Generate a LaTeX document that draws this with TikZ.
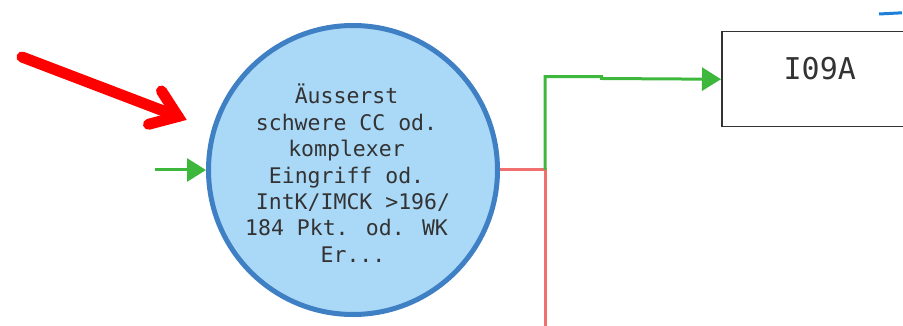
\documentclass[tikz,border=0pt]{standalone}
\usepackage{fontspec}
\usetikzlibrary{positioning,arrows.meta}
\newfontfamily\monofont{DejaVu Sans Mono}
\definecolor{cfill}{HTML}{AAD8F7}
\definecolor{cedge}{HTML}{3F80C4}
\definecolor{yesgreen}{HTML}{3DB83D}
\definecolor{nored}{HTML}{F07070}
\definecolor{txt}{HTML}{333333}
\definecolor{hintblue}{HTML}{1E7FD8}
\newcommand{\trail}{\hphantom{x}}
\tikzset{
  cond/.style={circle, minimum size=289pt, line width=5pt, draw=cedge, fill=cfill, text=txt, align=center, inner sep=0pt, font=\monofont\fontsize{21.5}{26.4}\selectfont},
  res/.style={rectangle, minimum width=196pt, minimum height=95pt, draw=txt, line width=1.5pt, text=txt, font=\monofont\fontsize{30}{36}\selectfont, text height=22pt, text depth=22pt},
  yesline/.style={draw=yesgreen, line width=3pt, -{Triangle[length=19pt,width=23pt]}},
  noline/.style={draw=nored, line width=3pt},
  pointer/.style={draw=red, line width=11pt, line cap=round},
  node distance=7mm
}

\begin{document}
\begin{tikzpicture}[x=1pt,y=-1pt]
	\useasboundingbox (0,0) rectangle (903,326);
	\node[cond] (crit) at (353,170) {\rule{0pt}{26pt}Äusserst\trail\\schwere CC od.\trail\\komplexer\trail\\Eingriff od.\trail\\IntK/IMCK >196/\\184 Pkt. od. WK\trail\\Er...};
	\node[res, anchor=north west] (i09a) at (721,31) {I09A};
	\coordinate (split) at (545,170);
	\coordinate (down) at (545,340);
	\coordinate (start) at (155,170);
	\coordinate (redtail) at (22,57);
	\coordinate (redtip) at (178,116.5);
	% incoming
	\draw[yesline] (start) -- (crit.west);
	\draw[pointer] (redtail) -- (redtip);
	\draw[pointer, line join=miter] (redtip) ++(-16.5,-25.5) -- (redtip) -- ++(-29.5,7.8);
	% outgoing
	\draw[noline] (crit.east) -- (split) -- (down);
	\draw[yesline] (split) -- (545,76.7) -- (601.7,76.7) -- (601.7,78.5) -- (i09a.west);
	% cut-off shape at the edge
	\draw[hintblue, line width=3pt] (879,14) -- (902,12.8);
\end{tikzpicture}
\end{document}
